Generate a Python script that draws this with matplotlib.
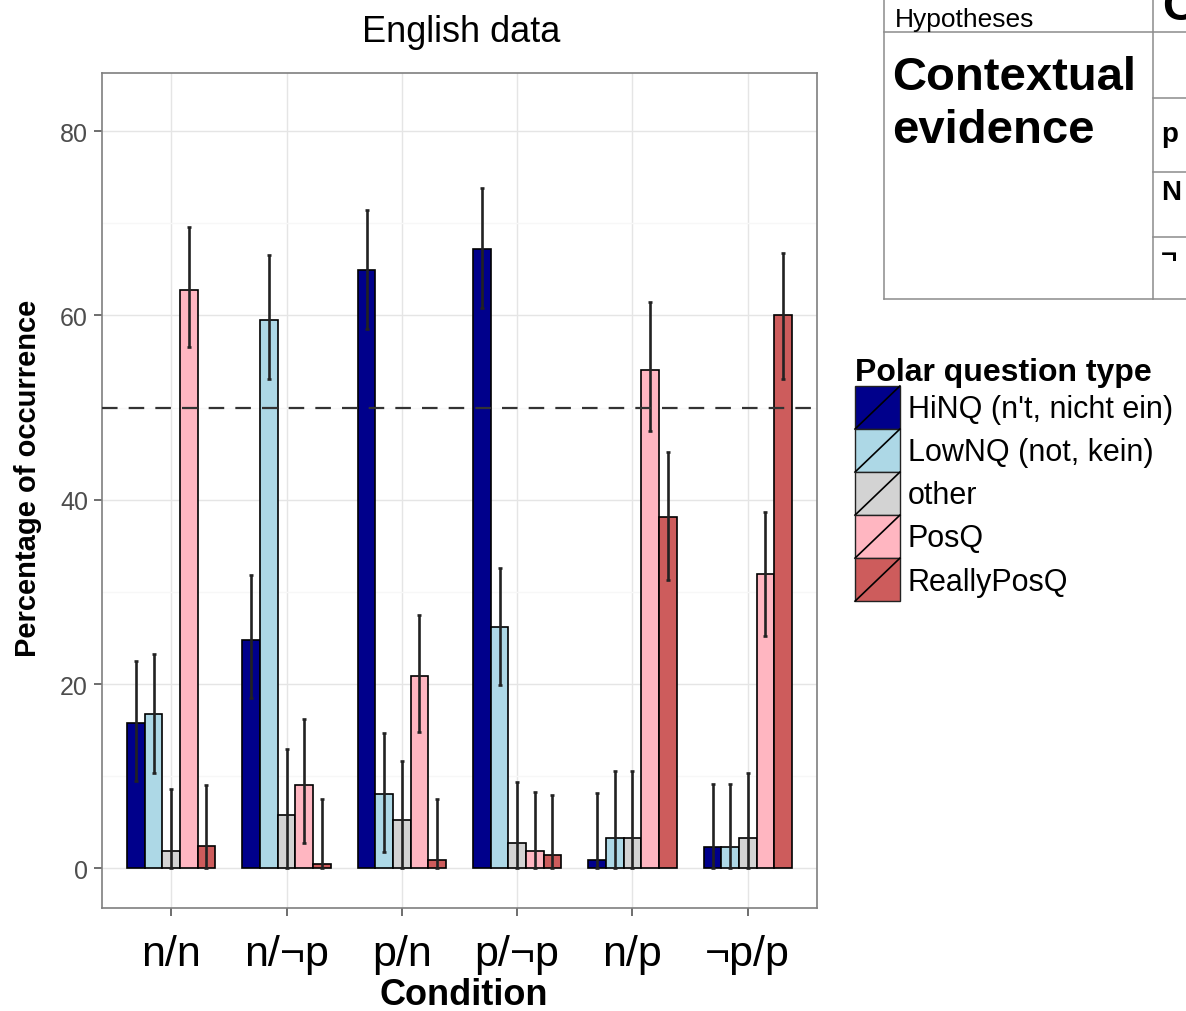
import numpy as np
import matplotlib
matplotlib.use("Agg")
import matplotlib.pyplot as plt
from matplotlib.patches import Rectangle
from matplotlib.lines import Line2D
from matplotlib.legend_handler import HandlerBase
from matplotlib.container import BarContainer

plt.rcParams['font.family'] = ['Liberation Sans', 'DejaVu Sans']

# data (percent, with CI bounds)
conditions = ['n/n', 'n/\u00acp', 'p/n', 'p/\u00acp', 'n/p', '\u00acp/p']
qtypes = ["HiNQ (n't, nicht ein)", 'LowNQ (not, kein)', 'other', 'PosQ', 'ReallyPosQ']
colours = ['#00008B', '#ADD8E6', '#D3D3D3', '#FFB6C1', '#CD5C5C']

hinq = [15.8, 24.8, 64.9, 67.2, 0.9, 2.3]
hinq_hi = [22.5, 31.8, 71.4, 73.8, 8.2, 9.2]
hinq_lo = [9.5, 18.5, 58.5, 60.8, 0.0, 0.0]

lownq = [16.7, 59.5, 8.1, 26.2, 3.3, 2.3]
lownq_hi = [23.3, 66.6, 14.7, 32.6, 10.6, 9.2]
lownq_lo = [10.4, 53.1, 1.8, 19.9, 0.0, 0.0]

other = [1.9, 5.8, 5.3, 2.8, 3.3, 3.3]
other_hi = [8.6, 12.9, 11.7, 9.4, 10.6, 10.4]
other_lo = [0.0, 0.0, 0.0, 0.0, 0.0, 0.0]

posq = [62.8, 9.0, 20.9, 1.9, 54.1, 31.9]
posq_hi = [69.6, 16.2, 27.5, 8.3, 61.5, 38.7]
posq_lo = [56.6, 2.8, 14.8, 0.0, 47.5, 25.2]

reallyposq = [2.4, 0.5, 0.9, 1.4, 38.1, 60.0]
reallyposq_hi = [9.0, 7.5, 7.5, 8.0, 45.2, 66.8]
reallyposq_lo = [0.0, 0.0, 0.0, 0.0, 31.3, 53.1]

series = [(hinq, hinq_lo, hinq_hi), (lownq, lownq_lo, lownq_hi),
          (other, other_lo, other_hi), (posq, posq_lo, posq_hi),
          (reallyposq, reallyposq_lo, reallyposq_hi)]

W, H = 1186, 1012
fig = plt.figure(figsize=(W / 100, H / 100), dpi=100)


def fx(px):
    return px / W


def fy(py):
    return 1 - py / H


ax = fig.add_axes([fx(102), fy(909), fx(817) - fx(102), fy(74) - fy(909)])

x = np.arange(1, len(conditions) + 1)
bw = 0.153
handles = []
for i, ((vals, lo, hi), col) in enumerate(zip(series, colours)):
    xs = x + (i - 2) * bw
    vals = np.array(vals)
    bars = ax.bar(xs, vals, width=bw, color=col, edgecolor='black', linewidth=1.2, zorder=3)
    handles.append(bars)
    ax.errorbar(xs, vals, yerr=[vals - np.array(lo), np.array(hi) - vals], fmt='none',
                ecolor='#222222', elinewidth=1.9, capsize=1.5, capthick=1.9, zorder=4)

ax.axhline(50, color='#333333', lw=1.6, linestyle=(0, (7, 5)), zorder=5)

ax.set_xlim(0.4, 6.6)
ax.set_ylim(-4.3, 86.3)
ax.set_xticks(x)
ax.set_xticklabels(conditions, fontsize=31, color='black')
ax.set_yticks([0, 20, 40, 60, 80])
ax.set_yticks([10, 30, 50, 70], minor=True)
ax.tick_params(axis='y', which='minor', length=0)
ax.tick_params(axis='both', which='major', length=6, width=1.2, color='#555555')
ax.tick_params(axis='y', labelsize=18, labelcolor='#4D4D4D', pad=4)
ax.tick_params(axis='x', pad=13)
ax.grid(True, which='major', color='#E5E5E5', lw=1.0, zorder=0)
ax.grid(True, which='minor', axis='y', color='#F7F7F7', lw=1.0, zorder=0)
ax.set_axisbelow(True)
for s in ax.spines.values():
    s.set_color('#7F7F7F')
    s.set_linewidth(1.2)

fig.text(fx(461), fy(42), 'English data', fontsize=26, ha='center', va='baseline')
fig.text(fx(464), fy(1005), 'Condition', fontsize=26, fontweight='bold', ha='center', va='baseline')
fig.text(fx(28), fy(478), 'Percentage of occurrence', fontsize=21, fontweight='bold',
         rotation=90, ha='center', va='center')


class SlashHandler(HandlerBase):
    def create_artists(self, legend, orig_handle, xdescent, ydescent, width, height, fontsize, trans):
        fc = orig_handle.patches[0].get_facecolor()
        r = Rectangle((-xdescent, -ydescent), width, height, facecolor=fc,
                      edgecolor='#222222', lw=1.0, transform=trans)
        ln = Line2D([-xdescent, -xdescent + width], [-ydescent, -ydescent + height],
                    color='black', lw=1.2, transform=trans)
        return [r, ln]


fig.text(fx(855), fy(381), 'Polar question type', fontsize=23, fontweight='bold', va='baseline')
fig.legend(handles, qtypes, loc='upper left', bbox_to_anchor=(fx(855), fy(387)),
           bbox_transform=fig.transFigure, frameon=False, fontsize=22,
           borderpad=0, borderaxespad=0, labelspacing=0, handlelength=1.47,
           handleheight=1.79, handletextpad=0.25,
           handler_map={BarContainer: SlashHandler()})

# cropped table at the top right
tcol = '#8C8C8C'
for (x0, y0, x1, y1) in [(884, 0, 884, 300), (884, 300, 1186, 300), (884, 33, 1186, 33),
                         (1153, 0, 1153, 300), (1153, 99, 1186, 99),
                         (1153, 173, 1186, 173), (1153, 238, 1186, 238)]:
    fig.add_artist(Line2D([fx(x0), fx(x1)], [fy(y0), fy(y1)], color=tcol, lw=1.1,
                          transform=fig.transFigure))
fig.text(fx(895), fy(27), 'Hypotheses', fontsize=19, va='baseline')
fig.text(fx(892), fy(90), 'Contextual', fontsize=34, fontweight='bold', va='baseline')
fig.text(fx(892), fy(143), 'evidence', fontsize=34, fontweight='bold', va='baseline')
fig.text(fx(1162), fy(20), 'C', fontsize=34, fontweight='bold', va='baseline')
fig.text(fx(1161), fy(142), 'p', fontsize=20, fontweight='bold', va='baseline')
fig.text(fx(1161), fy(200), 'N', fontsize=20, fontweight='bold', va='baseline')
fig.text(fx(1161), fy(263), '\u00ac', fontsize=20, fontweight='bold', va='baseline')

fig.savefig('out.png', dpi=100, facecolor='white')
